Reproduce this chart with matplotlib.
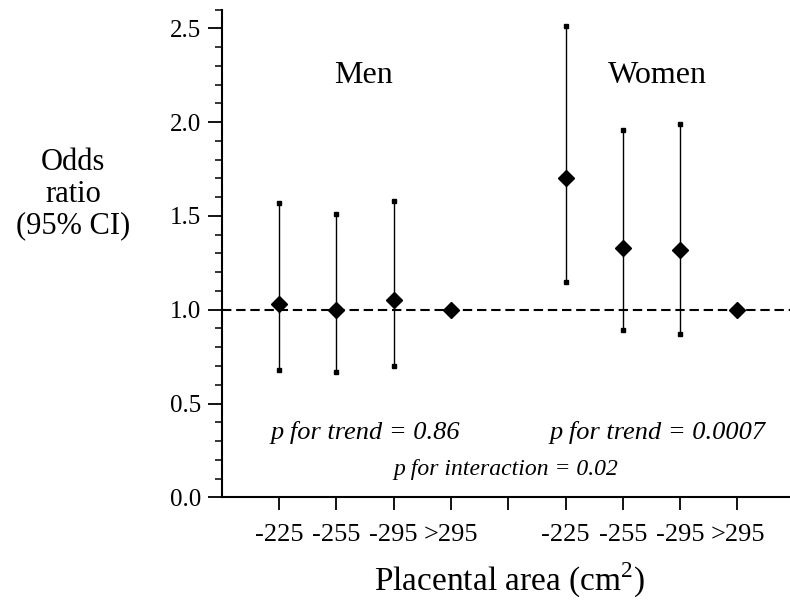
"""Odds ratio (95% CI) by placental area, men vs women."""

import matplotlib

matplotlib.use("Agg")
import matplotlib.pyplot as plt
from matplotlib.ticker import FixedLocator, MultipleLocator, FormatStrFormatter

plt.rcParams["font.family"] = ["Liberation Serif", "DejaVu Serif"]
plt.rcParams["mathtext.fontset"] = "custom"
plt.rcParams["mathtext.rm"] = "Liberation Serif"

# Data
tick_labels = ["-225", "-255", "-295", ">295", "", "-225", "-255", "-295", ">295"]
men_pos = [1, 2, 3, 4]
men_or = [1.03, 1.00, 1.05, 1.00]
men_lo = [0.68, 0.67, 0.70, None]
men_hi = [1.57, 1.51, 1.58, None]
women_pos = [6, 7, 8, 9]
women_or = [1.70, 1.33, 1.32, 1.00]
women_lo = [1.15, 0.89, 0.87, None]
women_hi = [2.51, 1.96, 1.99, None]


def draw_group(ax, pos, ors, lo, hi):
    for x, o, l, h in zip(pos, ors, lo, hi):
        if l is not None:
            ax.plot([x, x], [l, h], color="black", lw=1.0, zorder=2)
            ax.plot([x, x], [l, h], linestyle="none", marker="s", ms=3.2,
                    color="black", zorder=3)
        ax.plot(x, o, linestyle="none", marker="D", ms=8.5, color="black", zorder=4)


fig = plt.figure(figsize=(7.9, 6.04), dpi=100)
ax = fig.add_axes([221.7 / 790, 106.7 / 604, 1 - 221.7 / 790, 2.6 * 187.6 / 604])

ax.axhline(1.0, color="black", lw=1.5, dashes=(4.5, 2.3), zorder=1)
draw_group(ax, men_pos, men_or, men_lo, men_hi)
draw_group(ax, women_pos, women_or, women_lo, women_hi)

ax.set_xlim(0, (790 - 221.7) / 57.3)
ax.set_ylim(0, 2.6)

ax.xaxis.set_major_locator(FixedLocator(list(range(1, len(tick_labels) + 1))))
ax.set_xticklabels(tick_labels)
ax.yaxis.set_major_locator(FixedLocator([0, 0.5, 1.0, 1.5, 2.0, 2.5]))
ax.yaxis.set_major_formatter(FormatStrFormatter("%.1f"))
ax.yaxis.set_minor_locator(MultipleLocator(0.1))

for side in ("top", "right"):
    ax.spines[side].set_visible(False)
for side in ("left", "bottom"):
    ax.spines[side].set_linewidth(1.5)
    ax.spines[side].set_clip_on(False)

ax.tick_params(axis="x", which="major", length=9.5, width=1.3, pad=10,
               labelsize=19, direction="out")
ax.tick_params(axis="y", which="major", length=10, width=1.3, pad=5,
               labelsize=18, direction="out")
ax.tick_params(axis="y", which="minor", length=5, width=1.1, direction="out")

# Group labels and p-values
ax.text(2.47, 2.25, "Men", fontsize=23, ha="center", va="center")
ax.text(7.6, 2.25, "Women", fontsize=23, ha="center", va="center")
ax.text(2.5, 0.345, "p for trend = 0.86", fontsize=19, style="italic",
        ha="center", va="center")
ax.text(7.6, 0.345, "p for trend = 0.0007", fontsize=19, style="italic",
        ha="center", va="center")
ax.text(4.95, 0.15, "p for interaction = 0.02", fontsize=17, style="italic",
        ha="center", va="center")

fig.text(510 / 790, 1 - 580 / 604, "Placental area (cm$^{2}$)", fontsize=24,
         ha="center", va="center")
fig.text(73 / 790, 1 - 194 / 604, "Odds\nratio\n(95% CI)", fontsize=22,
         ha="center", va="center", linespacing=1.12)

fig.savefig("out.png", dpi=100)
